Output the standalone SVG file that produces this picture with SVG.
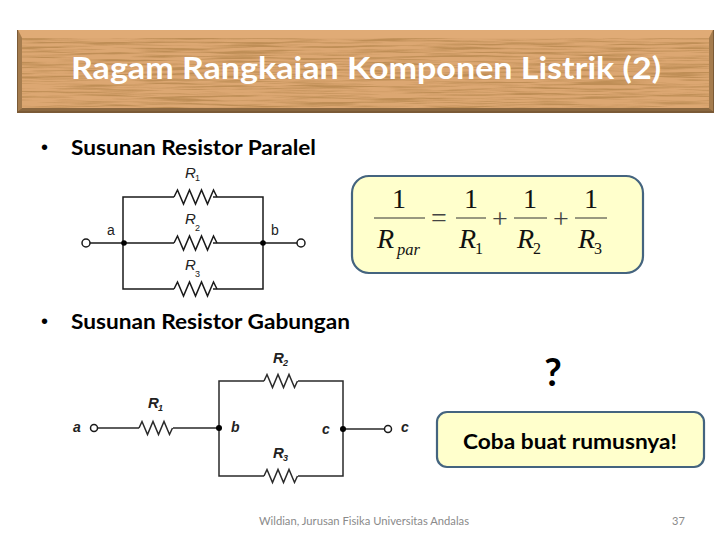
<svg xmlns="http://www.w3.org/2000/svg" width="728" height="546" viewBox="0 0 728 546">
<style>
.w{fill:none;stroke:#1a1a1a;stroke-width:1.5;stroke-linejoin:miter}
.w2{fill:none;stroke:#2a2a2a;stroke-width:1.5}
.dot{fill:#000}
.term{fill:#fff;stroke:#1a1a1a;stroke-width:1.5}
.box{fill:#ffffcc;stroke:#44647f;stroke-width:2.2}
.h{font-family:Lato,"Open Sans",sans-serif;font-weight:700;fill:#000}
.lab{font-family:"Liberation Sans",Arial,sans-serif;fill:#222}
.it{font-style:italic}
.bi{font-style:italic;font-weight:700}
.m{font-family:"Liberation Serif","Times New Roman",serif;fill:#111}
.frac{stroke:#333;stroke-width:1}
</style>
<defs>
<filter id="grain" x="0" y="0" width="100%" height="100%">
<feTurbulence type="fractalNoise" baseFrequency="0.014 0.5" numOctaves="3" seed="7"/>
<feColorMatrix type="matrix" values="0 0 0 0 0.48  0 0 0 0 0.25  0 0 0 0 0.08  3.6 0 0 0 -1.55"/>
</filter>
<path id="zz" d="M0 0l3.500 -7 6 14 6 -14 6 14 6 -14 6 14 6 -14 3.500 7"/>
<path id="zz2" d="M0 0l3 -6.500 5.500 13 5.500 -13 5.500 13 5.500 -13 5.500 13 3 -6.500"/>
</defs>

<g id="banner">
<rect x="17" y="30" width="697" height="83" fill="#7b5a36"/>
<rect x="18" y="30" width="695" height="81" fill="#d29c66"/>
<rect x="22" y="38" width="687" height="70" fill="#dca772"/>
<rect x="22" y="38" width="687" height="70" filter="url(#grain)" opacity="0.8"/>
<path d="M18 30h695l-4 8H22z" fill="#e0ab76"/>
<path d="M18 30v81l4 -3V38z" fill="#a57c4e"/>
<path d="M713 30v81l-4 -3V38z" fill="#a57c4e"/>
<path d="M18 111h695l-4 -3H22z" fill="#8a673f"/>
<text x="71" y="79" class="h" font-size="31" style="fill:#fff" textLength="590" lengthAdjust="spacingAndGlyphs">Ragam Rangkaian Komponen Listrik (2)</text>
</g>

<g id="bullet1">
<text x="41" y="154" font-family="'Liberation Sans',sans-serif" font-size="20">•</text>
<text x="71" y="155" class="h" font-size="21" textLength="245" lengthAdjust="spacingAndGlyphs">Susunan Resistor Paralel</text>
</g>
<g id="bullet2">
<text x="41" y="328" font-family="'Liberation Sans',sans-serif" font-size="20">•</text>
<text x="71" y="329" class="h" font-size="21" textLength="279" lengthAdjust="spacingAndGlyphs">Susunan Resistor Gabungan</text>
</g>

<g id="connectors">
<path class="w" d="M90 243H174M213 243H297M123 243V197H174M213 197H263V289H213M174 289H123V243"/>
<use href="#zz" x="174" y="197" class="w"/>
<use href="#zz" x="174" y="243" class="w"/>
<use href="#zz" x="174" y="289" class="w"/>
<path class="w2" d="M98 428H139M173 428H219M219 428V381H264M298 381H343V476H298M264 476H219V428M343 429H384"/>
<use href="#zz2" x="139" y="428" class="w2"/>
<use href="#zz2" x="264" y="381" class="w2"/>
<use href="#zz2" x="264" y="476" class="w2"/>
</g>

<g id="circuit1-nodes">
<circle class="term" cx="86" cy="243" r="4"/>
<circle class="term" cx="301" cy="243" r="4"/>
<circle class="dot" cx="124" cy="243" r="2.800"/>
<circle class="dot" cx="263" cy="243" r="2.800"/>
<text x="107" y="235" class="lab" font-size="14">a</text>
<text x="271" y="235" class="lab" font-size="14">b</text>
<text x="185" y="178" class="lab it" font-size="15">R</text><text x="195" y="181" class="lab" font-size="9">1</text>
<text x="185" y="224" class="lab it" font-size="15">R</text><text x="195" y="231" class="lab" font-size="9">2</text>
<text x="185" y="270" class="lab it" font-size="15">R</text><text x="195" y="277" class="lab" font-size="9">3</text>
</g>

<g id="circuit2-nodes">
<circle class="term" cx="94" cy="428" r="3.500"/>
<circle class="term" cx="388" cy="429" r="3.500"/>
<circle class="dot" cx="219" cy="428" r="3"/>
<circle class="dot" cx="343" cy="429" r="3"/>
<text x="73" y="432" class="lab bi" font-size="14">a</text>
<text x="231" y="432" class="lab bi" font-size="14">b</text>
<text x="322" y="434" class="lab bi" font-size="14">c</text>
<text x="401" y="432" class="lab bi" font-size="14">c</text>
<text x="148" y="408" class="lab bi" font-size="15">R</text><text x="158" y="411" class="lab bi" font-size="9">1</text>
<text x="273" y="363" class="lab bi" font-size="15">R</text><text x="283" y="366" class="lab bi" font-size="9">2</text>
<text x="273" y="458" class="lab bi" font-size="15">R</text><text x="283" y="461" class="lab bi" font-size="9">3</text>
</g>

<g id="formula">
<rect class="box" x="352" y="176" width="291" height="97" rx="17"/>
<g class="frac">
<path d="M374 218H425M456 218H486M514 218H547M575 218H607"/>
</g>
<g class="m" font-size="28">
<text x="399" y="208" text-anchor="middle">1</text>
<text x="471" y="208" text-anchor="middle">1</text>
<text x="530" y="208" text-anchor="middle">1</text>
<text x="591" y="208" text-anchor="middle">1</text>
<text x="377" y="248" font-style="italic">R</text>
<text x="459" y="248" font-style="italic">R</text>
<text x="517" y="248" font-style="italic">R</text>
<text x="578" y="248" font-style="italic">R</text>
</g>
<g class="m">
<text x="397" y="255" font-size="16.500" font-style="italic">par</text>
<text x="475" y="254" font-size="16">1</text>
<text x="533" y="254" font-size="16">2</text>
<text x="594" y="254" font-size="16">3</text>
<text x="431" y="227" font-size="28" style="fill:#444">=</text>
<text x="492" y="228" font-size="28" style="fill:#444">+</text>
<text x="553" y="228" font-size="28" style="fill:#444">+</text>
</g>
</g>

<g id="question">
<text x="553" y="386" class="h" font-size="38" text-anchor="middle">?</text>
</g>
<g id="hint">
<rect class="box" x="437" y="412" width="267" height="55" rx="10"/>
<text x="570" y="449" class="h" font-size="21" text-anchor="middle" textLength="214" lengthAdjust="spacingAndGlyphs">Coba buat rumusnya!</text>
</g>

<g id="footer" font-family="Lato,'Open Sans',sans-serif" font-size="11" fill="#8a8a8a">
<text x="259" y="525" textLength="210" lengthAdjust="spacingAndGlyphs">Wildian, Jurusan Fisika Universitas Andalas</text>
<text x="672" y="525">37</text>
</g>
</svg>
